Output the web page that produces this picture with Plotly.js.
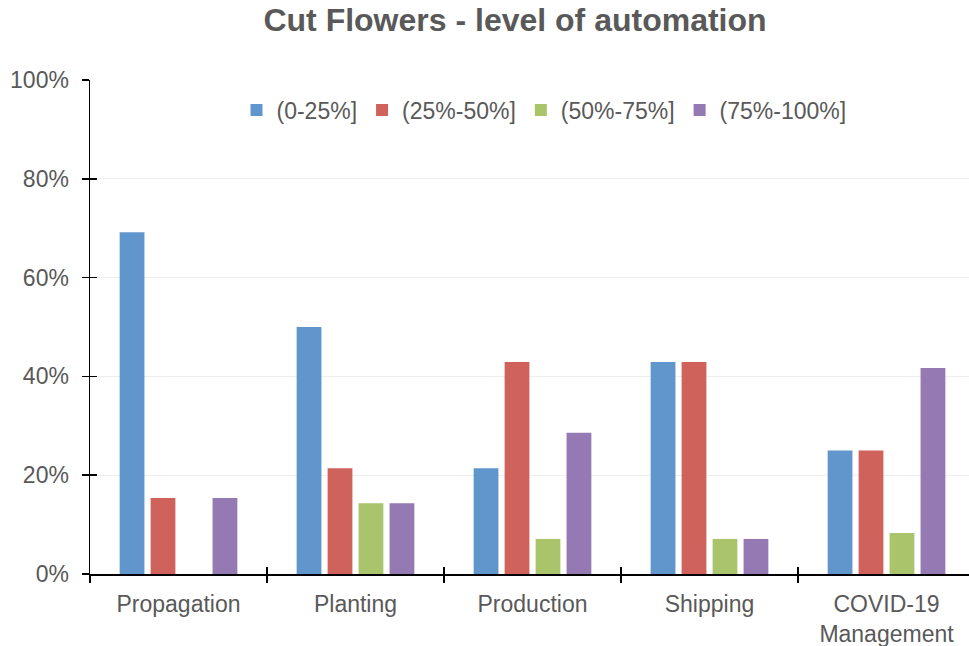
<!DOCTYPE html>
<html>
<head>
<meta charset="utf-8">
<script src="https://cdn.plot.ly/plotly-3.0.1.min.js"></script>
<style>html,body{margin:0;padding:0;overflow:hidden;background:#fff;}</style>
</head>
<body>
<div id="chart" style="width:975px;height:646px;"></div>
<script>
const categories = ["Propagation", "Planting", "Production", "Shipping", "COVID-19<br>Management"];
const seriesNames = ["(0-25%]", "(25%-50%]", "(50%-75%]", "(75%-100%]"];
const s0_25 = [0.692, 0.500, 0.214, 0.429, 0.250];
const s25_50 = [0.154, 0.214, 0.429, 0.429, 0.250];
const s50_75 = [0.0, 0.143, 0.071, 0.071, 0.083];
const s75_100 = [0.154, 0.143, 0.286, 0.071, 0.417];
const colors = ["#6096CB", "#CF635C", "#A9C46A", "#9479B3"];

const seriesValues = [s0_25, s25_50, s50_75, s75_100];
const traces = seriesValues.map((vals, i) => ({
  type: "bar",
  name: seriesNames[i],
  x: categories,
  y: vals,
  marker: {color: colors[i]},
  hoverinfo: "none"
}));
// invisible helper trace so the overlay axes (inner tick halves) are drawn
traces.push({
  type: "scatter", mode: "markers", x: [0], y: [0], xaxis: "x2", yaxis: "y2",
  marker: {opacity: 0}, showlegend: false, hoverinfo: "none"
});

const txtColor = "#595959";
const layout = {
  width: 975,
  height: 646,
  margin: {l: 90, r: 0, t: 80, b: 72},
  paper_bgcolor: "#ffffff",
  plot_bgcolor: "#ffffff",
  font: {family: "Liberation Sans, Arial, sans-serif", color: txtColor, size: 23},
  title: {
    text: "<b>Cut Flowers - level of automation</b>",
    font: {size: 32, color: txtColor},
    xref: "container", x: 515/975, xanchor: "center",
    yref: "container", y: 1 - 20/646, yanchor: "middle"
  },
  barmode: "group",
  bargap: 0.3,
  bargroupgap: 0.2,
  showlegend: true,
  legend: {
    orientation: "h",
    x: 0.513, xanchor: "center",
    y: 0.939, yanchor: "middle",
    font: {size: 23, color: txtColor},
    itemwidth: 30,
    tracegroupgap: 0,
    bgcolor: "rgba(0,0,0,0)"
  },
  xaxis: {
    type: "category",
    showline: true, linecolor: "#000", linewidth: 1.5,
    ticks: "outside", ticklen: 7, tickcolor: "#000", tickwidth: 1.5,
    tickson: "boundaries",
    showgrid: false,
    tickfont: {size: 23, color: txtColor},
    ticklabelstandoff: 9,
    fixedrange: true
  },
  xaxis2: {
    overlaying: "x",
    type: "linear",
    range: [-0.5, 4.5],
    tickvals: [-0.5, 0.5, 1.5, 2.5, 3.5, 4.5],
    ticks: "inside", ticklen: 7, tickcolor: "#000", tickwidth: 1.5,
    showticklabels: false, showgrid: false, showline: false, zeroline: false,
    anchor: "y2", side: "bottom"
  },
  yaxis: {
    range: [0, 1],
    dtick: 0.2,
    tickformat: ".0%",
    showline: true, linecolor: "#000", linewidth: 1.5,
    ticks: "outside", ticklen: 7, tickcolor: "#000", tickwidth: 1.5,
    showgrid: true, gridcolor: "#EEEEEE", gridwidth: 1,
    zeroline: false,
    tickfont: {size: 23, color: txtColor},
    ticklabelstandoff: 8,
    fixedrange: true
  },
  yaxis2: {
    overlaying: "y",
    range: [0, 1],
    tickvals: [0, 0.2, 0.4, 0.6, 0.8, 1.0],
    ticks: "inside", ticklen: 7, tickcolor: "#000", tickwidth: 1.5,
    showticklabels: false, showgrid: false, showline: false, zeroline: false,
    anchor: "x2", side: "left"
  }
};

Plotly.newPlot("chart", traces, layout, {displayModeBar: false, staticPlot: true});
</script>
</body>
</html>
